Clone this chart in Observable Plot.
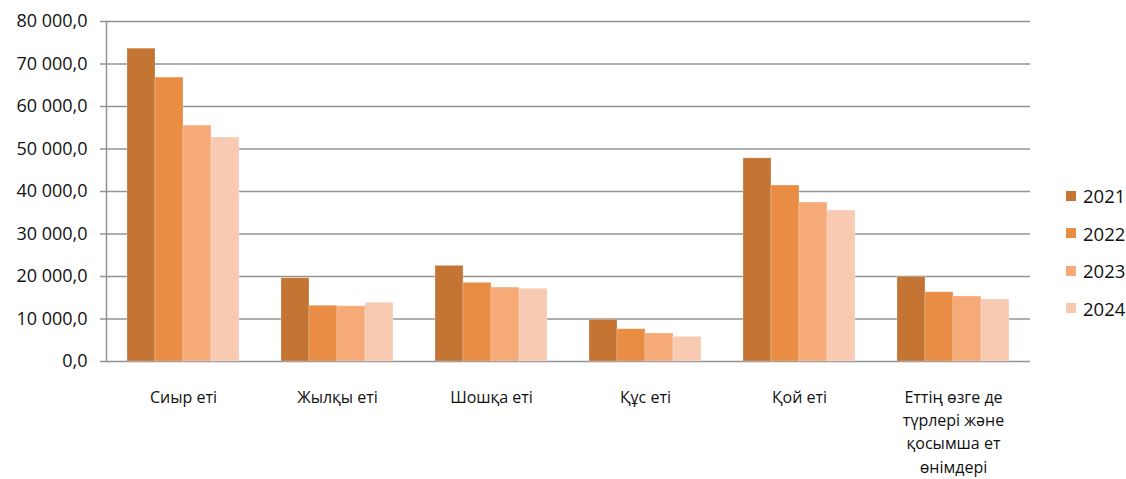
<!DOCTYPE html>
<html>
<head>
<meta charset="utf-8">
<script src="https://cdn.jsdelivr.net/npm/d3@7"></script>
<script src="https://cdn.jsdelivr.net/npm/@observablehq/plot@0.6"></script>
<style>
  html, body { margin: 0; padding: 0; background: #fff; }
  #wrap { position: relative; width: 1126px; height: 479px; font-family: "Open Sans", sans-serif; }
  #legend { position: absolute; left: 1066px; top: 177px; font-size: 18.5px; color: #111; }
  .item { display: flex; align-items: center; height: 37.5px; }
  .sw { width: 10px; height: 10px; margin-right: 7px; }
</style>
</head>
<body>
<div id="wrap"><div id="legend"></div></div>
<script>
const categories = ["Сиыр еті", "Жылқы еті", "Шошқа еті", "Құс еті", "Қой еті", "Еттің өзге де түрлері және қосымша ет өнімдері"];
const categoryLabels = ["Сиыр еті", "Жылқы еті", "Шошқа еті", "Құс еті", "Қой еті", "Еттің өзге де\nтүрлері және\nқосымша ет\nөнімдері"];
const years = ["2021", "2022", "2023", "2024"];
const v2021 = [73600, 19600, 22500, 9800, 47800, 19900];
const v2022 = [66800, 13100, 18500, 7600, 41400, 16300];
const v2023 = [55500, 13000, 17400, 6600, 37400, 15300];
const v2024 = [52700, 13800, 17100, 5800, 35500, 14600];
const yTicks = [0, 10000, 20000, 30000, 40000, 50000, 60000, 70000, 80000];
const colors = ["#C47534", "#E88D43", "#F6AA78", "#F8CAB2"];

const series = [v2021, v2022, v2023, v2024];
const data = [];
categories.forEach((c, i) => years.forEach((y, j) => data.push({category: c, year: y, value: series[j][i]})));
const labelMap = new Map(categories.map((c, i) => [c, categoryLabels[i]]));
const fmt = d3.formatLocale({decimal: ",", thousands: " ", grouping: [3]}).format(",.1f");

const chart = Plot.plot({
  width: 1126, height: 479,
  marginLeft: 103, marginRight: 94, marginTop: 21, marginBottom: 118,
  style: {fontFamily: "Open Sans, sans-serif", background: "transparent"},
  fx: {domain: categories, padding: 0, label: null},
  x: {domain: years, paddingInner: 0, paddingOuter: 0.7, axis: null},
  y: {domain: [0, 80000], label: null},
  color: {domain: years, range: colors},
  marks: [
    Plot.gridY(yTicks, {stroke: "#939393", strokeOpacity: 1, strokeWidth: 1.5}),
    Plot.barY(data, {fx: "category", x: "year", y: "value", fill: "year", inset: 0, stroke: "#fff", strokeOpacity: 0.25, strokeWidth: 1}),
    Plot.axisY(yTicks, {tickSize: 6, tickPadding: 13, stroke: "#939393", strokeWidth: 1.5, fill: "#111", tickFormat: fmt, fontSize: 18, label: null}),
    Plot.axisFx({anchor: "bottom", tickSize: 0, tickPadding: 25, tickFormat: d => labelMap.get(d), lineHeight: 1.45, fontSize: 16, fill: "#111", label: null}),
    Plot.frame({anchor: "left", stroke: "#939393", strokeWidth: 1.5, facet: "super"})
  ]
});
document.getElementById("wrap").prepend(chart);

const legend = document.getElementById("legend");
years.forEach((y, i) => {
  const it = document.createElement("div");
  it.className = "item";
  it.innerHTML = `<div class="sw" style="background:${colors[i]}"></div><span>${y}</span>`;
  legend.appendChild(it);
});
</script>
</body>
</html>
